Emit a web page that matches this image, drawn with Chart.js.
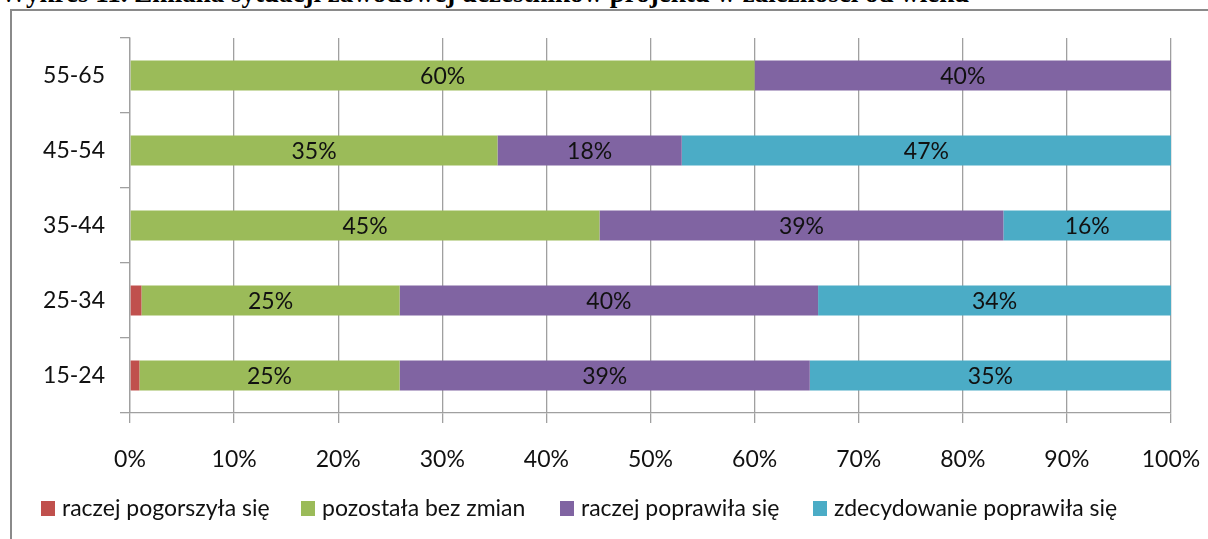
<!DOCTYPE html>
<html>
<head>
<meta charset="utf-8">
<script src="https://cdn.jsdelivr.net/npm/chart.js@4.4.1/dist/chart.umd.min.js"></script>
<style>
  html, body { margin: 0; padding: 0; background: #fff; overflow: hidden; }
  body { width: 1208px; height: 539px; position: relative; }
  #title { position: absolute; left: 0; top: -22px; white-space: nowrap;
    font-family: 'Liberation Serif', 'Times New Roman', serif; font-weight: bold; font-size: 27px; color: #000; line-height: 30px; }
  #frame { position: absolute; left: 10px; top: 9px; width: 1400px; height: 700px; border: 2px solid #8a8a8a; }
  #wrap { position: absolute; left: 0; top: 0; width: 1208px; height: 539px; }
</style>
</head>
<body>
<div id="title">Wykres 11. Zmiana sytuacji zawodowej uczestników projektu w zależności od wieku</div>
<div id="frame"></div>
<div id="wrap"><canvas id="c" width="1208" height="539"></canvas></div>
<script>
const categories = ['55-65', '45-54', '35-44', '25-34', '15-24'];
const seriesNames = ['raczej pogorszyła się', 'pozostała bez zmian', 'raczej poprawiła się', 'zdecydowanie poprawiła się'];
const seriesColors = ['#C0504D', '#9BBB59', '#8064A2', '#4BACC6'];
const pogorszyla = [0, 0, 0, 1.1, 0.9];
const bezZmian = [60, 35.3, 45.1, 24.8, 25.0];
const raczejPoprawila = [40, 17.7, 38.8, 40.2, 39.4];
const zdecydowaniePoprawila = [0, 47.0, 16.1, 33.9, 34.7];
const xTicks = [0, 10, 20, 30, 40, 50, 60, 70, 80, 90, 100];

const FONT = 'Lato, "Open Sans", sans-serif';
const FS = 23;
const seriesData = [pogorszyla, bezZmian, raczejPoprawila, zdecydowaniePoprawila];
const legendX = [41, 301, 560, 813];

const datasets = seriesNames.map((n, i) => ({
  label: n,
  data: seriesData[i],
  backgroundColor: seriesColors[i],
  borderWidth: 0,
  categoryPercentage: 0.4,
  barPercentage: 1.0,
  showLabel: i !== 0
}));

const labelPlugin = {
  id: 'segLabels',
  afterDatasetsDraw(chart) {
    const ctx = chart.ctx;
    ctx.save();
    ctx.font = FS + 'px ' + FONT;
    ctx.fillStyle = '#111';
    ctx.textAlign = 'center';
    ctx.textBaseline = 'middle';
    chart.data.datasets.forEach((ds, di) => {
      if (!ds.showLabel) return;
      const meta = chart.getDatasetMeta(di);
      meta.data.forEach((bar, i) => {
        const v = ds.data[i];
        if (!v) return;
        const cx = (bar.x + bar.base) / 2;
        ctx.fillText(Math.round(v) + '%', cx, bar.y + 1);
      });
    });
    ctx.restore();
  }
};

const legendPlugin = {
  id: 'customLegend',
  afterDraw(chart) {
    const ctx = chart.ctx;
    ctx.save();
    ctx.font = FS + 'px ' + FONT;
    ctx.textBaseline = 'middle';
    ctx.textAlign = 'left';
    const y = 508;
    chart.data.datasets.forEach((ds, i) => {
      const x = legendX[i];
      ctx.fillStyle = ds.backgroundColor;
      ctx.fillRect(x, y - 7, 14, 15);
      ctx.fillStyle = '#111';
      ctx.fillText(ds.label, x + 21, y + 1);
    });
    ctx.restore();
  }
};

new Chart(document.getElementById('c'), {
  type: 'bar',
  data: { labels: categories, datasets },
  plugins: [labelPlugin, legendPlugin],
  options: {
    indexAxis: 'y',
    responsive: false,
    animation: false,
    devicePixelRatio: 1,
    layout: { padding: { top: 38, right: 37, left: 0, bottom: 0 } },
    plugins: { legend: { display: false }, tooltip: { enabled: false }, title: { display: false } },
    scales: {
      x: {
        stacked: true,
        min: 0, max: 100,
        afterBuildTicks(scale) { scale.ticks = xTicks.map(v => ({ value: v })); },
        afterFit(scale) { scale.height = 126; scale.paddingLeft = 0; scale.paddingRight = 0; },
        ticks: { callback: v => v + '%', font: { size: FS, family: FONT }, color: '#111', padding: 23, maxRotation: 0 },
        grid: { color: '#a0a0a0', lineWidth: 1.3, tickLength: 10, drawTicks: true },
        border: { color: '#a0a0a0', width: 1.3 }
      },
      y: {
        stacked: true,
        afterFit(scale) { scale.width = 130; scale.paddingTop = 0; scale.paddingBottom = 0; },
        ticks: { font: { size: FS, family: FONT }, color: '#111', padding: 15 },
        grid: { drawOnChartArea: false, color: '#a0a0a0', lineWidth: 1.3, tickLength: 10, offset: true },
        border: { color: '#a0a0a0', width: 1.3 }
      }
    }
  }
});
</script>
</body>
</html>
